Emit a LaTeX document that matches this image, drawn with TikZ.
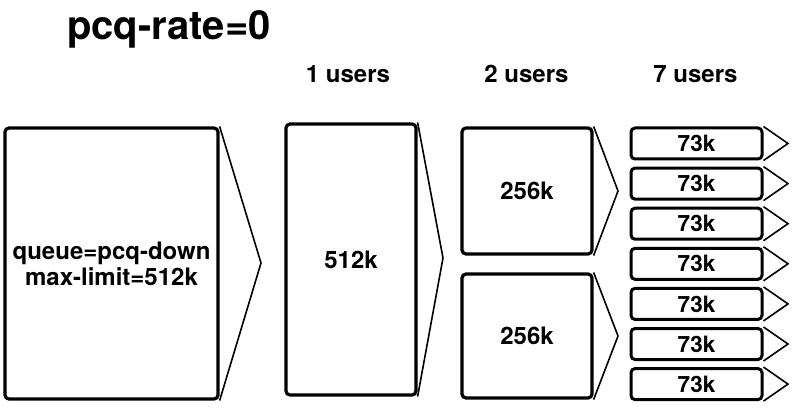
\documentclass[tikz,border=0pt]{standalone}
\usepackage{fontspec}
\setmainfont{TeX Gyre Heros}
\tikzset{
  qbox/.style={draw=black, line width=3.2pt, rounded corners=4pt, fill=white, inner sep=0pt,
    font=\fontsize{24}{26}\selectfont\bfseries, align=center},
  smallbox/.style={qbox, line width=3pt, minimum width=131pt, minimum height=31pt,
    font=\fontsize{22.5}{24}\selectfont\bfseries},
  tri/.style={draw=black, line width=1.6pt, line join=miter},
  hdr/.style={font=\fontsize{24}{26}\selectfont\bfseries, inner sep=0pt, anchor=base},
}
\begin{document}
\begin{tikzpicture}[x=1pt,y=-1pt]
\useasboundingbox (0,0) rectangle (800,414);
% headers
\node[font=\fontsize{40}{44}\selectfont\bfseries, inner sep=0pt, anchor=base west] (title) at (67,40) {pcq-rate=0};
\node[hdr] (h1) at (348,83) {1 users};
\node[hdr] (h2) at (526.5,83) {2 users};
\node[hdr] (h7) at (695.5,83) {7 users};
% tips
\coordinate (bigtip) at (261,263);
\coordinate (tip512) at (443,258);
\coordinate (tip256a) at (618,191);
\coordinate (tip256b) at (618,336);
% boxes
\node[qbox, minimum width=213pt, minimum height=271pt] (big) at (111.5,263.5) {queue=pcq-down\\max-limit=512k};
\draw[tri] (big.north east) -- (bigtip) -- (big.south east);
\node[qbox, minimum width=130pt, minimum height=271pt] (b512) at (351,259.5) {512k};
\draw[tri] (b512.north east) -- (tip512) -- (b512.south east);
\node[qbox, minimum width=130pt, minimum height=126pt] (b256a) at (527,191) {256k};
\draw[tri] (b256a.north east) -- (tip256a) -- (b256a.south east);
\node[qbox, minimum width=130pt, minimum height=124pt] (b256b) at (527,336) {256k};
\draw[tri] (b256b.north east) -- (tip256b) -- (b256b.south east);
% 73k boxes
\foreach \i in {0,...,6} {
  \pgfmathsetmacro{\yy}{143.5+40.1*\i}
  \node[smallbox] (u\i) at (696.5,\yy) {73k};
  \coordinate (ut\i) at (788,\yy);
  \draw[tri] (u\i.north east) -- (ut\i) -- (u\i.south east);
}
\end{tikzpicture}
\end{document}
